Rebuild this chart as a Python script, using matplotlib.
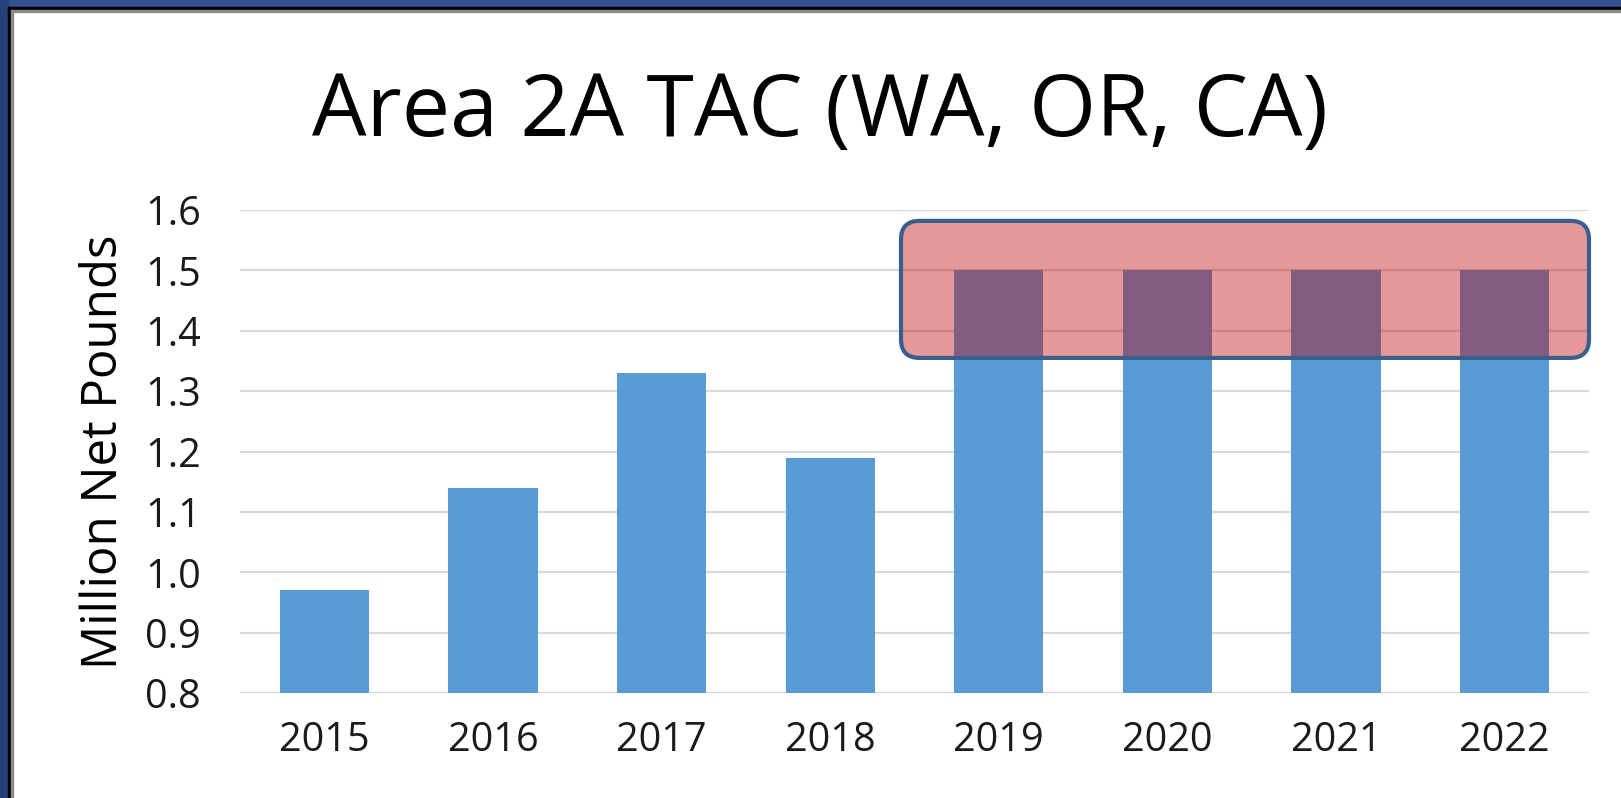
import matplotlib
matplotlib.use("Agg")
import matplotlib.pyplot as plt
from matplotlib.patches import Rectangle, FancyBboxPatch
import numpy as np

# data
years = ["2015", "2016", "2017", "2018", "2019", "2020", "2021", "2022"]
tac = [0.97, 1.14, 1.33, 1.19, 1.50, 1.50, 1.50, 1.50]
yticks = [0.8, 0.9, 1.0, 1.1, 1.2, 1.3, 1.4, 1.5, 1.6]

plt.rcParams['font.family'] = ['Open Sans', 'DejaVu Sans']

W, H = 1621, 798
fig = plt.figure(figsize=(W / 100, H / 100), dpi=100)
fig.patch.set_facecolor("white")

# slide frame: blue band, black line, grey line
def px_rect(x0, y0, w, h, color):
    fig.patches.append(Rectangle((x0 / W, 1 - (y0 + h) / H), w / W, h / H,
                                 transform=fig.transFigure, color=color,
                                 zorder=0))

px_rect(0, 0, W, 7, "#33518f")
px_rect(0, 0, 8, H, "#263f7c")
px_rect(8, 7, W, 3, "#000000")
px_rect(8, 7, 3, H, "#000000")
px_rect(11, 10, W, 1.5, "#8a8a8a")
px_rect(11, 10, 1.5, H, "#8a8a8a")

ax = fig.add_axes([240 / W, 1 - 693 / H, (1589 - 240) / W, (693 - 210) / H])
x = np.arange(len(years))
ax.bar(x, tac, width=0.53, color="#5b9bd5", zorder=2)

ax.set_xlim(-0.5, len(years) - 0.5)
ax.set_ylim(0.8, 1.6)
ax.set_yticks(yticks)
ax.set_yticklabels([f"{v:.1f}" for v in yticks])
ax.set_xticks(x)
ax.set_xticklabels(years)
ax.tick_params(axis="both", length=0, labelsize=28.5, colors="#1a1a1a")
ax.tick_params(axis="x", pad=20)
ax.tick_params(axis="y", pad=28)
ax.grid(axis="y", color="#d9d9d9", linewidth=1.6, zorder=0)
ax.set_axisbelow(True)
for s in ax.spines.values():
    s.set_visible(False)

ax.set_ylabel("Million Net Pounds", fontsize=35.5, labelpad=12)

# highlight box over the flat 1.5 years
aspect = (1 / 0.8 * (693 - 210)) / ((1589 - 240) / 8)
box = FancyBboxPatch((3.42, 1.355), 7.5 - 3.42, 1.582 - 1.355,
                     boxstyle="round,pad=0,rounding_size=0.11",
                     mutation_aspect=1 / aspect,
                     facecolor=(0.75, 0, 0, 0.4), edgecolor="#3a5f8f",
                     linewidth=3, zorder=3, clip_on=False)
ax.add_patch(box)

fig.text(0.506, 0.858, "Area 2A TAC (WA, OR, CA)", ha="center", va="center",
         fontsize=62, color="black")

fig.savefig("out.png", dpi=100)
